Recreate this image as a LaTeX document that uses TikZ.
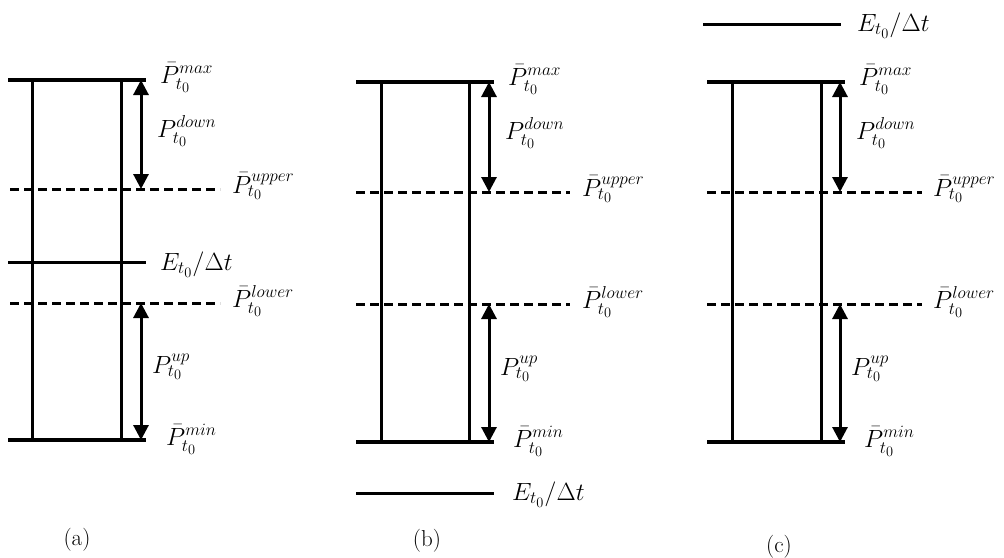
\documentclass[tikz,border=0pt]{standalone}
\usetikzlibrary{arrows.meta}
% larger scripts for the level labels
\DeclareMathSizes{26}{26}{19}{15}
\tikzset{
  level/.style={line width=4pt},
  energy/.style={line width=3pt},
  limit/.style={line width=3pt, dash pattern=on 9pt off 5pt},
  post/.style={line width=3pt},
  span/.style={line width=3pt, {Triangle[width=15pt,length=15pt]}-{Triangle[width=15pt,length=15pt]}},
  lab/.style={inner sep=0pt, anchor=base west, font=\fontsize{26}{30}\selectfont},
  paneltag/.style={inner sep=0pt, font=\fontsize{23}{27}\selectfont}
}
\begin{document}
\begin{tikzpicture}[x=1pt, y=-1pt]
\useasboundingbox (0,0) rectangle (1004,557);

% ---------- panel (a): energy level between the two limits ----------
\begin{scope}[shift={(8,80)}]
  \coordinate (a-tl) at (0,0);     \coordinate (a-tr) at (138,0);
  \coordinate (a-bl) at (0,360);   \coordinate (a-br) at (138,360);
  \coordinate (a-ul) at (2,109);   \coordinate (a-ur) at (212,109);
  \coordinate (a-ll) at (2,223);   \coordinate (a-lr) at (212,223);
  \coordinate (a-el) at (0,182);   \coordinate (a-er) at (138,182);
  \coordinate (a-v1t) at (24,0);   \coordinate (a-v1b) at (24,360);
  \coordinate (a-v2t) at (113,0);  \coordinate (a-v2b) at (113,360);
  \coordinate (a-dt) at (133,0);   \coordinate (a-db) at (133,109);
  \coordinate (a-ut) at (133,223); \coordinate (a-ub) at (133,360);
  \draw[post] (a-v1t) -- (a-v1b);
  \draw[post] (a-v2t) -- (a-v2b);
  \draw[level] (a-tl) -- (a-tr);
  \draw[level] (a-bl) -- (a-br);
  \draw[limit] (a-ul) -- (a-ur);
  \draw[limit] (a-ll) -- (a-lr);
  \draw[energy] (a-el) -- (a-er);
  \draw[span] (a-dt) -- (a-db);
  \draw[span] (a-ut) -- (a-ub);
  \node[lab] (a-max) at (152,3) {$\bar{P}_{t_0}^{max}$};
  \node[lab] (a-upper) at (224,113) {$\bar{P}_{t_0}^{upper}$};
  \node[lab] (a-e) at (152,190) {$E_{t_0}/\Delta t$};
  \node[lab] (a-lower) at (224,227) {$\bar{P}_{t_0}^{lower}$};
  \node[lab] (a-min) at (158,365) {$\bar{P}_{t_0}^{min}$};
  \node[lab] (a-down) at (149,57) {$P_{t_0}^{down}$};
  \node[lab] (a-up) at (144,293) {$P_{t_0}^{up}$};
\end{scope}

% ---------- panel (b): energy level below the minimum ----------
\begin{scope}[shift={(356,82)}]
  \coordinate (b-tl) at (0,0);     \coordinate (b-tr) at (138,0);
  \coordinate (b-bl) at (0,360);   \coordinate (b-br) at (138,360);
  \coordinate (b-ul) at (0,110);   \coordinate (b-ur) at (214,110);
  \coordinate (b-ll) at (0,222);   \coordinate (b-lr) at (214,222);
  \coordinate (b-el) at (0,411);   \coordinate (b-er) at (138,411);
  \coordinate (b-v1t) at (25,0);   \coordinate (b-v1b) at (25,360);
  \coordinate (b-v2t) at (113,0);  \coordinate (b-v2b) at (113,360);
  \coordinate (b-dt) at (133,0);   \coordinate (b-db) at (133,110);
  \coordinate (b-ut) at (133,222); \coordinate (b-ub) at (133,360);
  \draw[post] (b-v1t) -- (b-v1b);
  \draw[post] (b-v2t) -- (b-v2b);
  \draw[level] (b-tl) -- (b-tr);
  \draw[level] (b-bl) -- (b-br);
  \draw[limit] (b-ul) -- (b-ur);
  \draw[limit] (b-ll) -- (b-lr);
  \draw[energy] (b-el) -- (b-er);
  \draw[span] (b-dt) -- (b-db);
  \draw[span] (b-ut) -- (b-ub);
  \node[lab] (b-max) at (152,3) {$\bar{P}_{t_0}^{max}$};
  \node[lab] (b-upper) at (226,114) {$\bar{P}_{t_0}^{upper}$};
  \node[lab] (b-lower) at (226,226) {$\bar{P}_{t_0}^{lower}$};
  \node[lab] (b-min) at (157,365) {$\bar{P}_{t_0}^{min}$};
  \node[lab] (b-e) at (156,418) {$E_{t_0}/\Delta t$};
  \node[lab] (b-down) at (149,57) {$P_{t_0}^{down}$};
  \node[lab] (b-up) at (144,293) {$P_{t_0}^{up}$};
\end{scope}

% ---------- panel (c): energy level above the maximum ----------
\begin{scope}[shift={(707,82)}]
  \coordinate (c-tl) at (0,0);     \coordinate (c-tr) at (138,0);
  \coordinate (c-bl) at (0,360);   \coordinate (c-br) at (138,360);
  \coordinate (c-ul) at (0,110);   \coordinate (c-ur) at (215,110);
  \coordinate (c-ll) at (0,222);   \coordinate (c-lr) at (215,222);
  \coordinate (c-el) at (-4,-58);  \coordinate (c-er) at (134,-58);
  \coordinate (c-v1t) at (25,0);   \coordinate (c-v1b) at (25,360);
  \coordinate (c-v2t) at (114,0);  \coordinate (c-v2b) at (114,360);
  \coordinate (c-dt) at (133,0);   \coordinate (c-db) at (133,110);
  \coordinate (c-ut) at (133,222); \coordinate (c-ub) at (133,360);
  \draw[post] (c-v1t) -- (c-v1b);
  \draw[post] (c-v2t) -- (c-v2b);
  \draw[level] (c-tl) -- (c-tr);
  \draw[level] (c-bl) -- (c-br);
  \draw[limit] (c-ul) -- (c-ur);
  \draw[limit] (c-ll) -- (c-lr);
  \draw[energy] (c-el) -- (c-er);
  \draw[span] (c-dt) -- (c-db);
  \draw[span] (c-ut) -- (c-ub);
  \node[lab] (c-e) at (150,-51) {$E_{t_0}/\Delta t$};
  \node[lab] (c-max) at (152,3) {$\bar{P}_{t_0}^{max}$};
  \node[lab] (c-upper) at (226,114) {$\bar{P}_{t_0}^{upper}$};
  \node[lab] (c-lower) at (226,226) {$\bar{P}_{t_0}^{lower}$};
  \node[lab] (c-min) at (157,365) {$\bar{P}_{t_0}^{min}$};
  \node[lab] (c-down) at (149,57) {$P_{t_0}^{down}$};
  \node[lab] (c-up) at (144,293) {$P_{t_0}^{up}$};
\end{scope}

% ---------- captions ----------
\node[paneltag] (tag-a) at (77,540) {(a)};
\node[paneltag] (tag-b) at (427,541) {(b)};
\node[paneltag] (tag-c) at (779,547) {(c)};
\end{tikzpicture}
\end{document}
